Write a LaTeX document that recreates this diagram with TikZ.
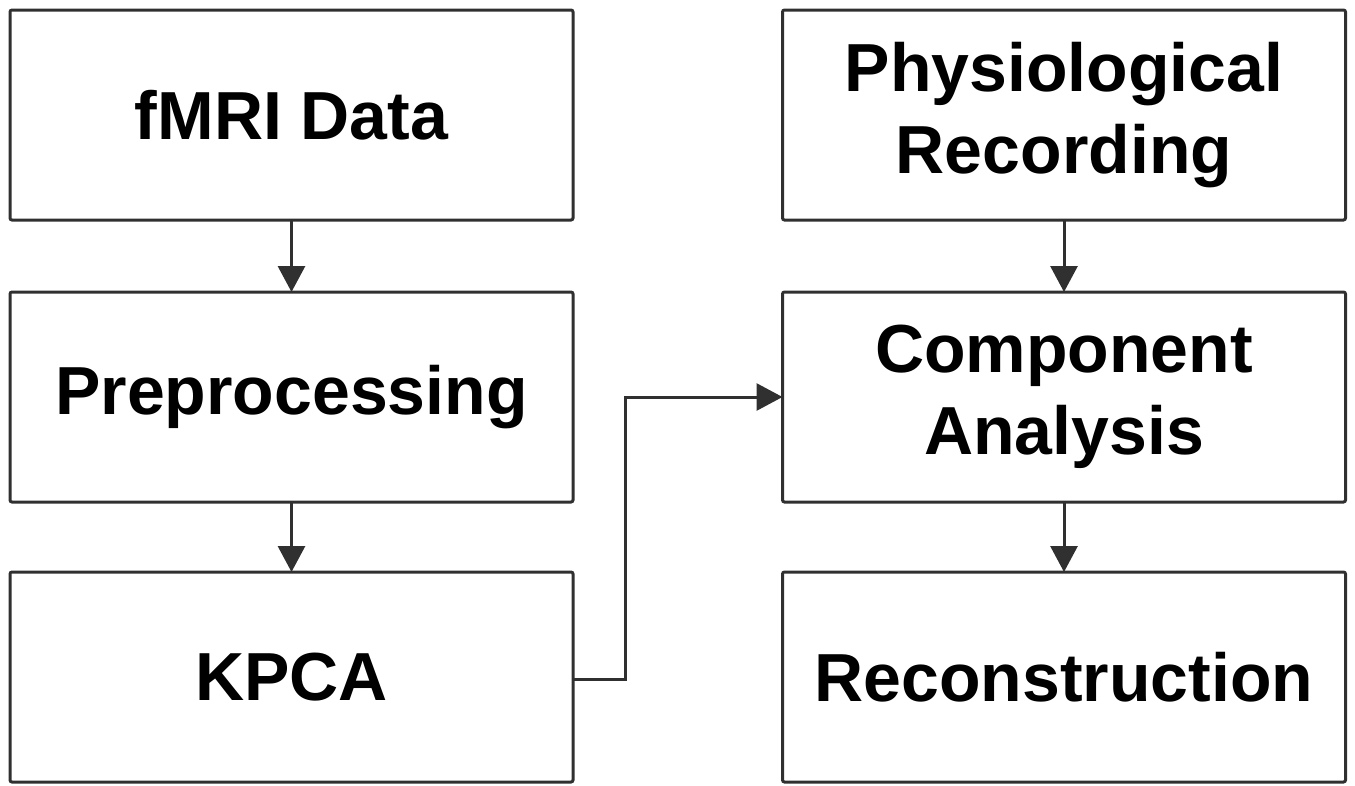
\documentclass[tikz,border=0pt]{standalone}
\usepackage{fontspec}
\setmainfont{Liberation Sans}
\usetikzlibrary{arrows.meta}
\definecolor{ln}{HTML}{303030}
\begin{document}
\begin{tikzpicture}[x=1pt,y=-1pt,
  box/.style={draw=ln,line width=3pt,rounded corners=2pt,minimum width=563pt,minimum height=210pt,
    align=center,inner sep=0pt,outer sep=0pt,font=\bfseries\fontsize{68}{82}\selectfont},
  conn/.style={draw=ln,line width=3pt,-{Triangle[length=26pt,width=27pt]}}]
\useasboundingbox (0,0) rectangle (1355,785);
\node[box] (fmri) at (291.5,115) {fMRI Data};
\node[box] (pre) at (291.5,397) {Preprocessing};
\node[box] (kpca) at (291.5,677) {KPCA};
\node[box] (phys) at (1064,115) {Physiological\\Recording};
\node[box] (comp) at (1064,397) {Component\\Analysis};
\node[box] (rec) at (1064,677) {Reconstruction};
\draw[conn] (fmri) -- (pre);
\draw[conn] (pre) -- (kpca);
\draw[conn] (phys) -- (comp);
\draw[conn] (comp) -- (rec);
\coordinate (c1) at (625,679);
\coordinate (c2) at (625,397);
\draw[conn] (kpca.east |- c1) -- (c1) -- (c2) -- (comp.west);
\end{tikzpicture}
\end{document}
